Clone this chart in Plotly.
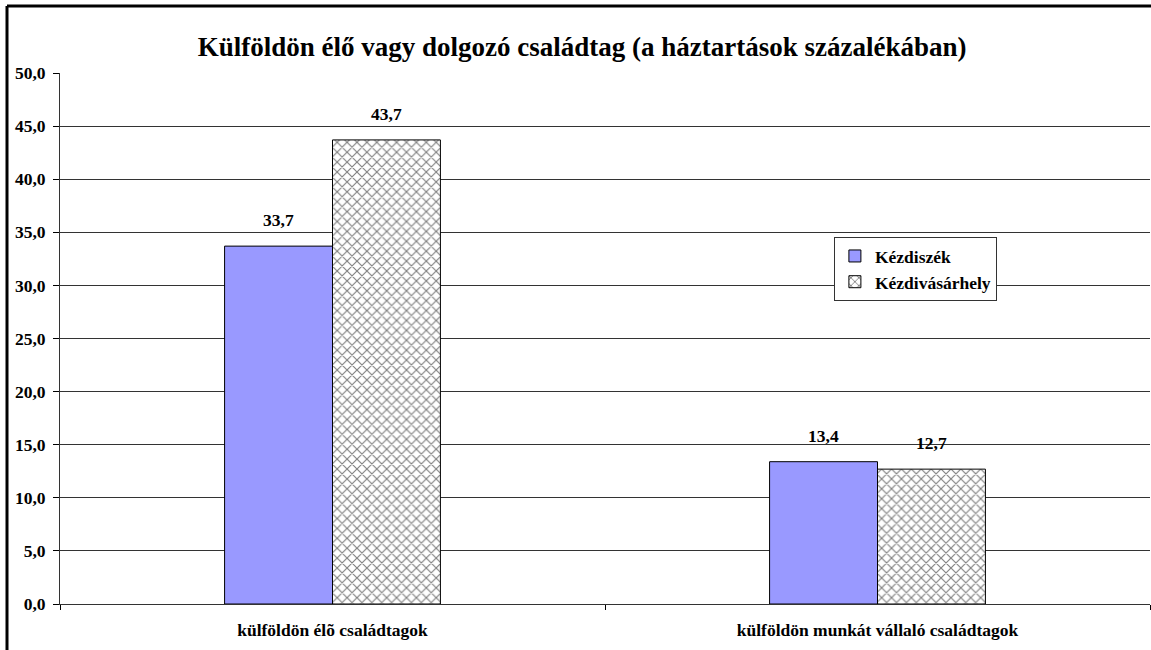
import plotly.graph_objects as go

categories = ["külföldön élõ családtagok", "külföldön munkát vállaló családtagok"]
kezdiszek = [33.7, 13.4]
kezdivasarhely = [43.7, 12.7]
series_names = ["Kézdiszék", "Kézdivásárhely"]
y_ticks = [0, 5, 10, 15, 20, 25, 30, 35, 40, 45, 50]
y_tick_labels = ["0,0", "5,0", "10,0", "15,0", "20,0", "25,0", "30,0", "35,0", "40,0", "45,0", "50,0"]

def fmt(v):
    return f"{v:.1f}".replace(".", ",")

FONT = "Liberation Serif"
FS = 17.5

fig = go.Figure()
fig.add_trace(go.Bar(
    name=f"<b>{series_names[0]}</b>", x=categories, y=kezdiszek,
    marker=dict(color="#9999FF", line=dict(color="black", width=1)),
))
fig.add_trace(go.Bar(
    name=f"<b>{series_names[1]}</b>", x=categories, y=kezdivasarhely,
    marker=dict(color="white", line=dict(color="black", width=1),
                pattern=dict(shape="x", fgcolor="black", bgcolor="white", size=7, solidity=0.3)),
))

annotations = []
for vals, shift in ((kezdiszek, -54), (kezdivasarhely, 54)):
    for c, v in zip(categories, vals):
        annotations.append(dict(x=c, y=v, xref="x", yref="y", xshift=shift, yshift=26,
                                text=f"<b>{fmt(v)}</b>", showarrow=False,
                                font=dict(family=FONT, size=FS, color="black")))

x_left = -53 / 1090
y_top = 1 + 67 / 531
y_bot = -46 / 531

fig.update_layout(
    width=1151, height=650,
    paper_bgcolor="white", plot_bgcolor="white",
    margin=dict(l=60, r=1, t=73, b=46),
    barmode="group", bargap=0.604, bargroupgap=0,
    title=dict(text="<b>Külföldön élő vagy dolgozó családtag (a háztartások százalékában)</b>",
               x=0.5057, xanchor="center", y=0.928, yanchor="middle",
               font=dict(family=FONT, size=27, color="black")),
    font=dict(family=FONT, color="black"),
    showlegend=True,
    legend=dict(x=0.71, y=0.691, xanchor="left", yanchor="top",
                bgcolor="white", bordercolor="#333", borderwidth=1,
                font=dict(family=FONT, size=FS, color="black"),
                tracegroupgap=0, itemwidth=30),
    xaxis=dict(showline=True, linecolor="#333", linewidth=1,
               ticks="outside", tickson="boundaries", ticklen=5, tickcolor="black",
               tickfont=dict(family=FONT, size=FS, color="black"),
               ticklabelstandoff=10,
               tickprefix="<b>", ticksuffix="</b>", showgrid=False),
    yaxis=dict(range=[0, 50], tickmode="array", tickvals=y_ticks, ticktext=[f"<b>{t}</b>" for t in y_tick_labels],
               showline=True, linecolor="#333", linewidth=1,
               ticks="outside", ticklen=6, tickcolor="black",
               ticklabelstandoff=4,
               tickfont=dict(family=FONT, size=FS, color="black"),
               showgrid=True, gridcolor="#333", gridwidth=1, zeroline=False),
    annotations=annotations,
    shapes=[
        dict(type="line", xref="paper", yref="paper", x0=x_left, x1=x_left, y0=y_bot, y1=y_top,
             line=dict(color="black", width=3)),
        dict(type="line", xref="paper", yref="paper", x0=x_left, x1=1.01, y0=y_top, y1=y_top,
             line=dict(color="black", width=3)),
    ],
)

post = (
    "var s=document.createElement('style');"
    "s.textContent='html,body{margin:0;padding:0;overflow:hidden;scrollbar-width:none;}"
    "::-webkit-scrollbar{display:none;width:0;height:0;}';"
    "document.head.appendChild(s);"
)

fig.write_html("out.html", config={"displayModeBar": False}, post_script=post)
